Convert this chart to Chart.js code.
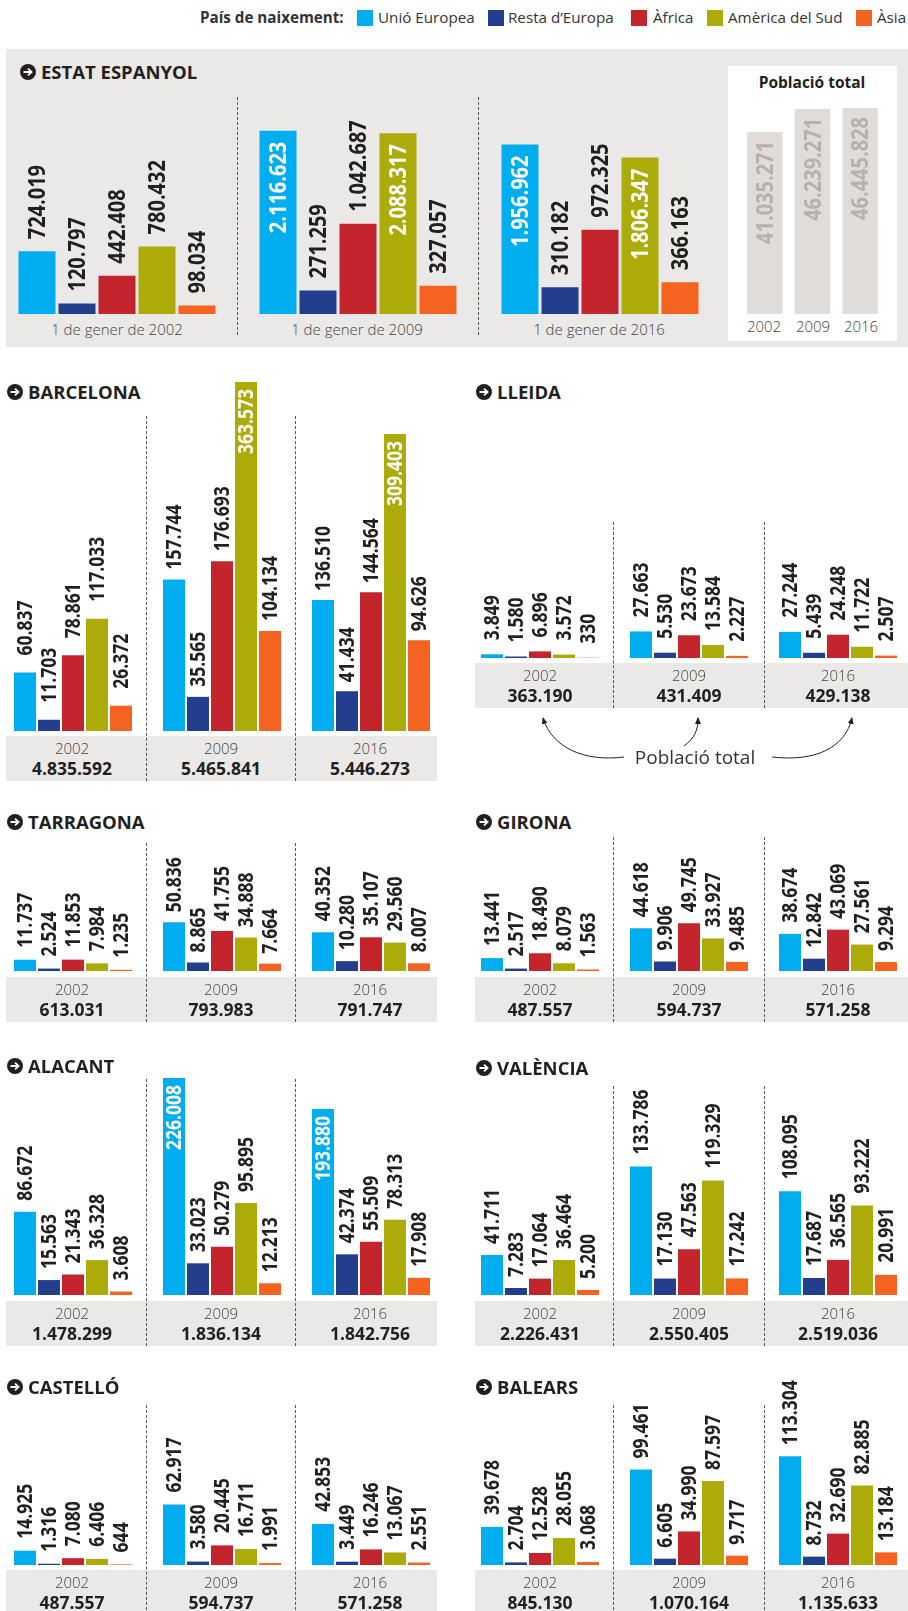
<!DOCTYPE html>
<html lang="ca">
<head>
<meta charset="utf-8">
<title>País de naixement</title>
<script src="https://cdn.jsdelivr.net/npm/chart.js@4"></script>
<style>
  html, body { margin: 0; padding: 0; background: #fff; }
  #page { position: relative; width: 908px; height: 1611px; overflow: hidden; font-family: "Open Sans", sans-serif; color: #222; }
  #page > * { position: absolute; }
  .box { background: #ebe9e7; }
  .white { background: #fff; }
  .sep { width: 0; border-left: 1px dashed #555; }
  .txt { transform: translate(-50%, -50%); white-space: nowrap; line-height: 1; }
  .left { transform: translateY(-50%); white-space: nowrap; line-height: 1; }
  .title { font-weight: 700; font-size: 18.5px; color: #231f20; }
  .year { font-weight: 300; font-size: 15px; color: #444; }
  .total { font-weight: 700; font-size: 17.5px; color: #231f20; }
  .legend { font-size: 15.2px; color: #333; }
  .swatch { width: 16px; height: 16px; }
  canvas { display: block; }
</style>
</head>
<body>
<div id="page"></div>
<script>
// Dades
const origins = ['Unió Europea', 'Resta d\u2019Europa', 'Àfrica', 'Amèrica del Sud', 'Àsia'];
const originColors = ['#00aeef', '#243e8e', '#c4242c', '#adab09', '#f46420'];
const years = ['2002', '2009', '2016'];

const spain2002 = [724019, 120797, 442408, 780432, 98034];
const spain2009 = [2116623, 271259, 1042687, 2088317, 327057];
const spain2016 = [1956962, 310182, 972325, 1806347, 366163];
const spainTotals = [41035271, 46239271, 46445828];

const barcelona = [[60837, 11703, 78861, 117033, 26372], [157744, 35565, 176693, 363573, 104134], [136510, 41434, 144564, 309403, 94626]];
const barcelonaTotals = [4835592, 5465841, 5446273];
const lleida = [[3849, 1580, 6896, 3572, 330], [27663, 5530, 23673, 13584, 2227], [27244, 5439, 24248, 11722, 2507]];
const lleidaTotals = [363190, 431409, 429138];
const tarragona = [[11737, 2524, 11853, 7984, 1235], [50836, 8865, 41755, 34888, 7664], [40352, 10280, 35107, 29560, 8007]];
const tarragonaTotals = [613031, 793983, 791747];
const girona = [[13441, 2517, 18490, 8079, 1563], [44618, 9906, 49745, 33927, 9485], [38674, 12842, 43069, 27561, 9294]];
const gironaTotals = [487557, 594737, 571258];
const alacant = [[86672, 15563, 21343, 36328, 3608], [226008, 33023, 50279, 95895, 12213], [193880, 42374, 55509, 78313, 17908]];
const alacantTotals = [1478299, 1836134, 1842756];
const valencia = [[41711, 7283, 17064, 36464, 5200], [133786, 17130, 47563, 119329, 17242], [108095, 17687, 36565, 93222, 20991]];
const valenciaTotals = [2226431, 2550405, 2519036];
const castello = [[14925, 1316, 7080, 6406, 644], [62917, 3580, 20445, 16711, 1991], [42853, 3449, 16246, 13067, 2551]];
const castelloTotals = [487557, 594737, 571258];
const balears = [[39678, 2704, 12528, 28055, 3068], [99461, 6605, 34990, 87597, 9717], [113304, 8732, 32690, 82885, 13184]];
const balearsTotals = [845130, 1070164, 1135633];

// Maquetacio
const LEFT = { band: [6, 437], seps: [146, 295], bars: [13, 162, 311], centers: [72, 221, 370] };
const RIGHT = { band: [475, 908], seps: [613, 764], bars: [480, 629, 778], centers: [540, 689, 838] };

const provinces = [
  { name: 'BARCELONA', data: barcelona, totals: barcelonaTotals, col: LEFT, titleY: 392, base: 731, bandTop: 736, sepTop: 416, gaps: [17, 10, 9] },
  { name: 'LLEIDA', data: lleida, totals: lleidaTotals, col: RIGHT, titleY: 392, base: 658, bandTop: 663, sepTop: 522, gaps: [14, 14, 14] },
  { name: 'TARRAGONA', data: tarragona, totals: tarragonaTotals, col: LEFT, titleY: 822, base: 971, bandTop: 977, sepTop: 843, gaps: [12, 10, 11] },
  { name: 'GIRONA', data: girona, totals: gironaTotals, col: RIGHT, titleY: 822, base: 971, bandTop: 977, sepTop: 837, gaps: [12, 11, 11] },
  { name: 'ALACANT', data: alacant, totals: alacantTotals, col: LEFT, titleY: 1066, base: 1295, bandTop: 1301, sepTop: 1079, gaps: [11, 11, 11] },
  { name: 'VALÈNCIA', data: valencia, totals: valenciaTotals, col: RIGHT, titleY: 1068, base: 1295, bandTop: 1301, sepTop: 1086, gaps: [11, 12, 12] },
  { name: 'CASTELLÓ', data: castello, totals: castelloTotals, col: LEFT, titleY: 1387, base: 1565, bandTop: 1570, sepTop: 1405, gaps: [12, 12, 12] },
  { name: 'BALEARS', data: balears, totals: balearsTotals, col: RIGHT, titleY: 1387, base: 1565, bandTop: 1570, sepTop: 1405, gaps: [12, 11, 11] }
];

const page = document.getElementById('page');

function fmt(n) {
  return String(n).replace(/\B(?=(\d{3})+$)/g, '.');
}

function addBox(cls, x, y, w, h) {
  const d = document.createElement('div');
  d.className = cls;
  d.style.cssText = `left:${x}px;top:${y}px;width:${w}px;height:${h}px`;
  page.appendChild(d);
  return d;
}

function addText(text, cls, x, y) {
  const d = document.createElement('div');
  d.className = cls;
  d.textContent = text;
  d.style.left = x + 'px';
  d.style.top = y + 'px';
  page.appendChild(d);
  return d;
}

function addSep(x, top, bottom) {
  const d = document.createElement('div');
  d.className = 'sep';
  d.style.cssText = `left:${x}px;top:${top}px;height:${bottom - top}px`;
  page.appendChild(d);
}

function addTitle(name, x, y) {
  const ns = 'http://www.w3.org/2000/svg';
  const svg = document.createElementNS(ns, 'svg');
  svg.setAttribute('width', 16);
  svg.setAttribute('height', 16);
  svg.setAttribute('viewBox', '0 0 16 16');
  svg.style.cssText = `left:${x}px;top:${y - 8}px`;
  svg.innerHTML = '<circle cx="8" cy="8" r="8" fill="#231f20"/><path d="M3.5 8H11M8 4.6L11.6 8L8 11.4" fill="none" stroke="#fff" stroke-width="1.8"/>';
  page.appendChild(svg);
  addText(name, 'left title', x + 21, y);
}

// Etiquetes giradas sobre les barres (una mica eixamplades, com al diari)
const rotatedLabels = {
  id: 'rotatedLabels',
  afterDatasetsDraw(chart, args, o) {
    const ctx = chart.ctx;
    const values = chart.data.datasets[0].data;
    chart.getDatasetMeta(0).data.forEach((bar, i) => {
      const inside = values[i] >= o.insideFrom;
      ctx.save();
      ctx.translate(bar.x, inside ? bar.y + o.insideGap : bar.y - o.gap);
      ctx.rotate(-Math.PI / 2);
      ctx.scale(1, 1.2);
      ctx.font = `700 ${o.size}px "Open Sans"`;
      ctx.fillStyle = inside ? o.insideColor : '#231f20';
      ctx.textBaseline = 'middle';
      ctx.textAlign = inside ? 'right' : 'left';
      ctx.fillText(fmt(values[i]), 0, 1);
      ctx.restore();
    });
  }
};

function barChart(left, base, width, height, labels, values, colors, o) {
  const canvas = document.createElement('canvas');
  canvas.width = width;
  canvas.height = height;
  canvas.style.cssText = `left:${left}px;top:${base - height}px;width:${width}px;height:${height}px`;
  page.appendChild(canvas);
  new Chart(canvas.getContext('2d'), {
    type: 'bar',
    data: {
      labels: labels,
      datasets: [{ data: values, backgroundColor: colors, borderWidth: 0, categoryPercentage: 1, barPercentage: o.barPct }]
    },
    options: {
      responsive: false,
      animation: false,
      devicePixelRatio: 1,
      layout: { padding: 0 },
      events: [],
      scales: {
        x: { display: false },
        y: { display: false, min: 0, max: height / o.pxPerUnit }
      },
      plugins: {
        legend: { display: false },
        tooltip: { enabled: false },
        rotatedLabels: o
      }
    },
    plugins: [rotatedLabels]
  });
}

// Llegenda
addText('País de naixement:', 'left legend', 200, 18).style.fontWeight = 700;
[[357, 378], [488, 508], [631, 653], [707, 728], [856, 877]].forEach((p, i) => {
  addBox('swatch', p[0], 10, 16, 16).style.background = originColors[i];
  addText(origins[i], 'left legend', p[1], 18);
});

// Estat espanyol
addBox('box', 6, 49, 902, 298);
addBox('white', 728, 66, 169, 275);
addTitle('ESTAT ESPANYOL', 20, 72);
addSep(237, 97, 335);
addSep(478, 97, 335);
[spain2002, spain2009, spain2016].forEach((vals, i) => {
  barChart([16.5, 257.5, 499.5][i], 314, 200, 250, origins, vals, originColors, {
    barPct: 37 / 40, pxPerUnit: 0.0000866, gap: 12, insideGap: 11, insideFrom: 1500000, insideColor: '#fff', size: 20
  });
  addText(`1 de gener de ${years[i]}`, 'txt year', [117, 357, 599][i], 329);
});
addText('Població total', 'txt', 812, 83).style.cssText += ';font-weight:700;font-size:15.5px;color:#231f20';
barChart(741, 314, 143, 240, years, spainTotals, ['#e0dcd9', '#e0dcd9', '#e0dcd9'], {
  barPct: 36 / 48.5, pxPerUnit: 0.000004435, gap: 12, insideGap: 9, insideFrom: 0, insideColor: '#b7b0ac', size: 20
});
years.forEach((y, i) => addText(y, 'txt year', [764, 813, 861][i], 326));

// Províncies
provinces.forEach(p => {
  const c = p.col;
  addBox('box', c.band[0], p.bandTop, c.band[1] - c.band[0], 45);
  addTitle(p.name, c.band[0] + 1, p.titleY);
  c.seps.forEach(x => addSep(x, p.sepTop, p.bandTop + 45));
  p.data.forEach((vals, i) => {
    barChart(c.bars[i], p.base, 120, 370, origins, vals, originColors, {
      barPct: 22 / 24, pxPerUnit: 0.00096, gap: p.gaps[i], insideGap: 7, insideFrom: 190000, insideColor: '#fff', size: 17.5
    });
    addText(years[i], 'txt year', c.centers[i], p.bandTop + 12);
    addText(fmt(p.totals[i]), 'txt total', c.centers[i], p.bandTop + 33);
  });
});

// Fletxes de "Població total"
addText('Població total', 'txt', 695, 757).style.cssText += ';font-size:19px;font-weight:400;color:#333';
const arrows = document.createElementNS('http://www.w3.org/2000/svg', 'svg');
arrows.setAttribute('width', 908);
arrows.setAttribute('height', 1611);
arrows.style.cssText = 'left:0;top:0;pointer-events:none';
arrows.innerHTML = '<defs><marker id="tip" markerWidth="8" markerHeight="8" refX="6" refY="3" orient="auto"><path d="M0 0L7 3L0 6Z" fill="#222"/></marker></defs>' +
  '<g fill="none" stroke="#222" stroke-width="1">' +
  '<path d="M624 757C585 762 552 748 543 718" marker-end="url(#tip)"/>' +
  '<path d="M684 746C695 738 698 730 698 718" marker-end="url(#tip)"/>' +
  '<path d="M772 757C815 762 845 748 852 718" marker-end="url(#tip)"/></g>';
page.appendChild(arrows);
</script>
</body>
</html>
